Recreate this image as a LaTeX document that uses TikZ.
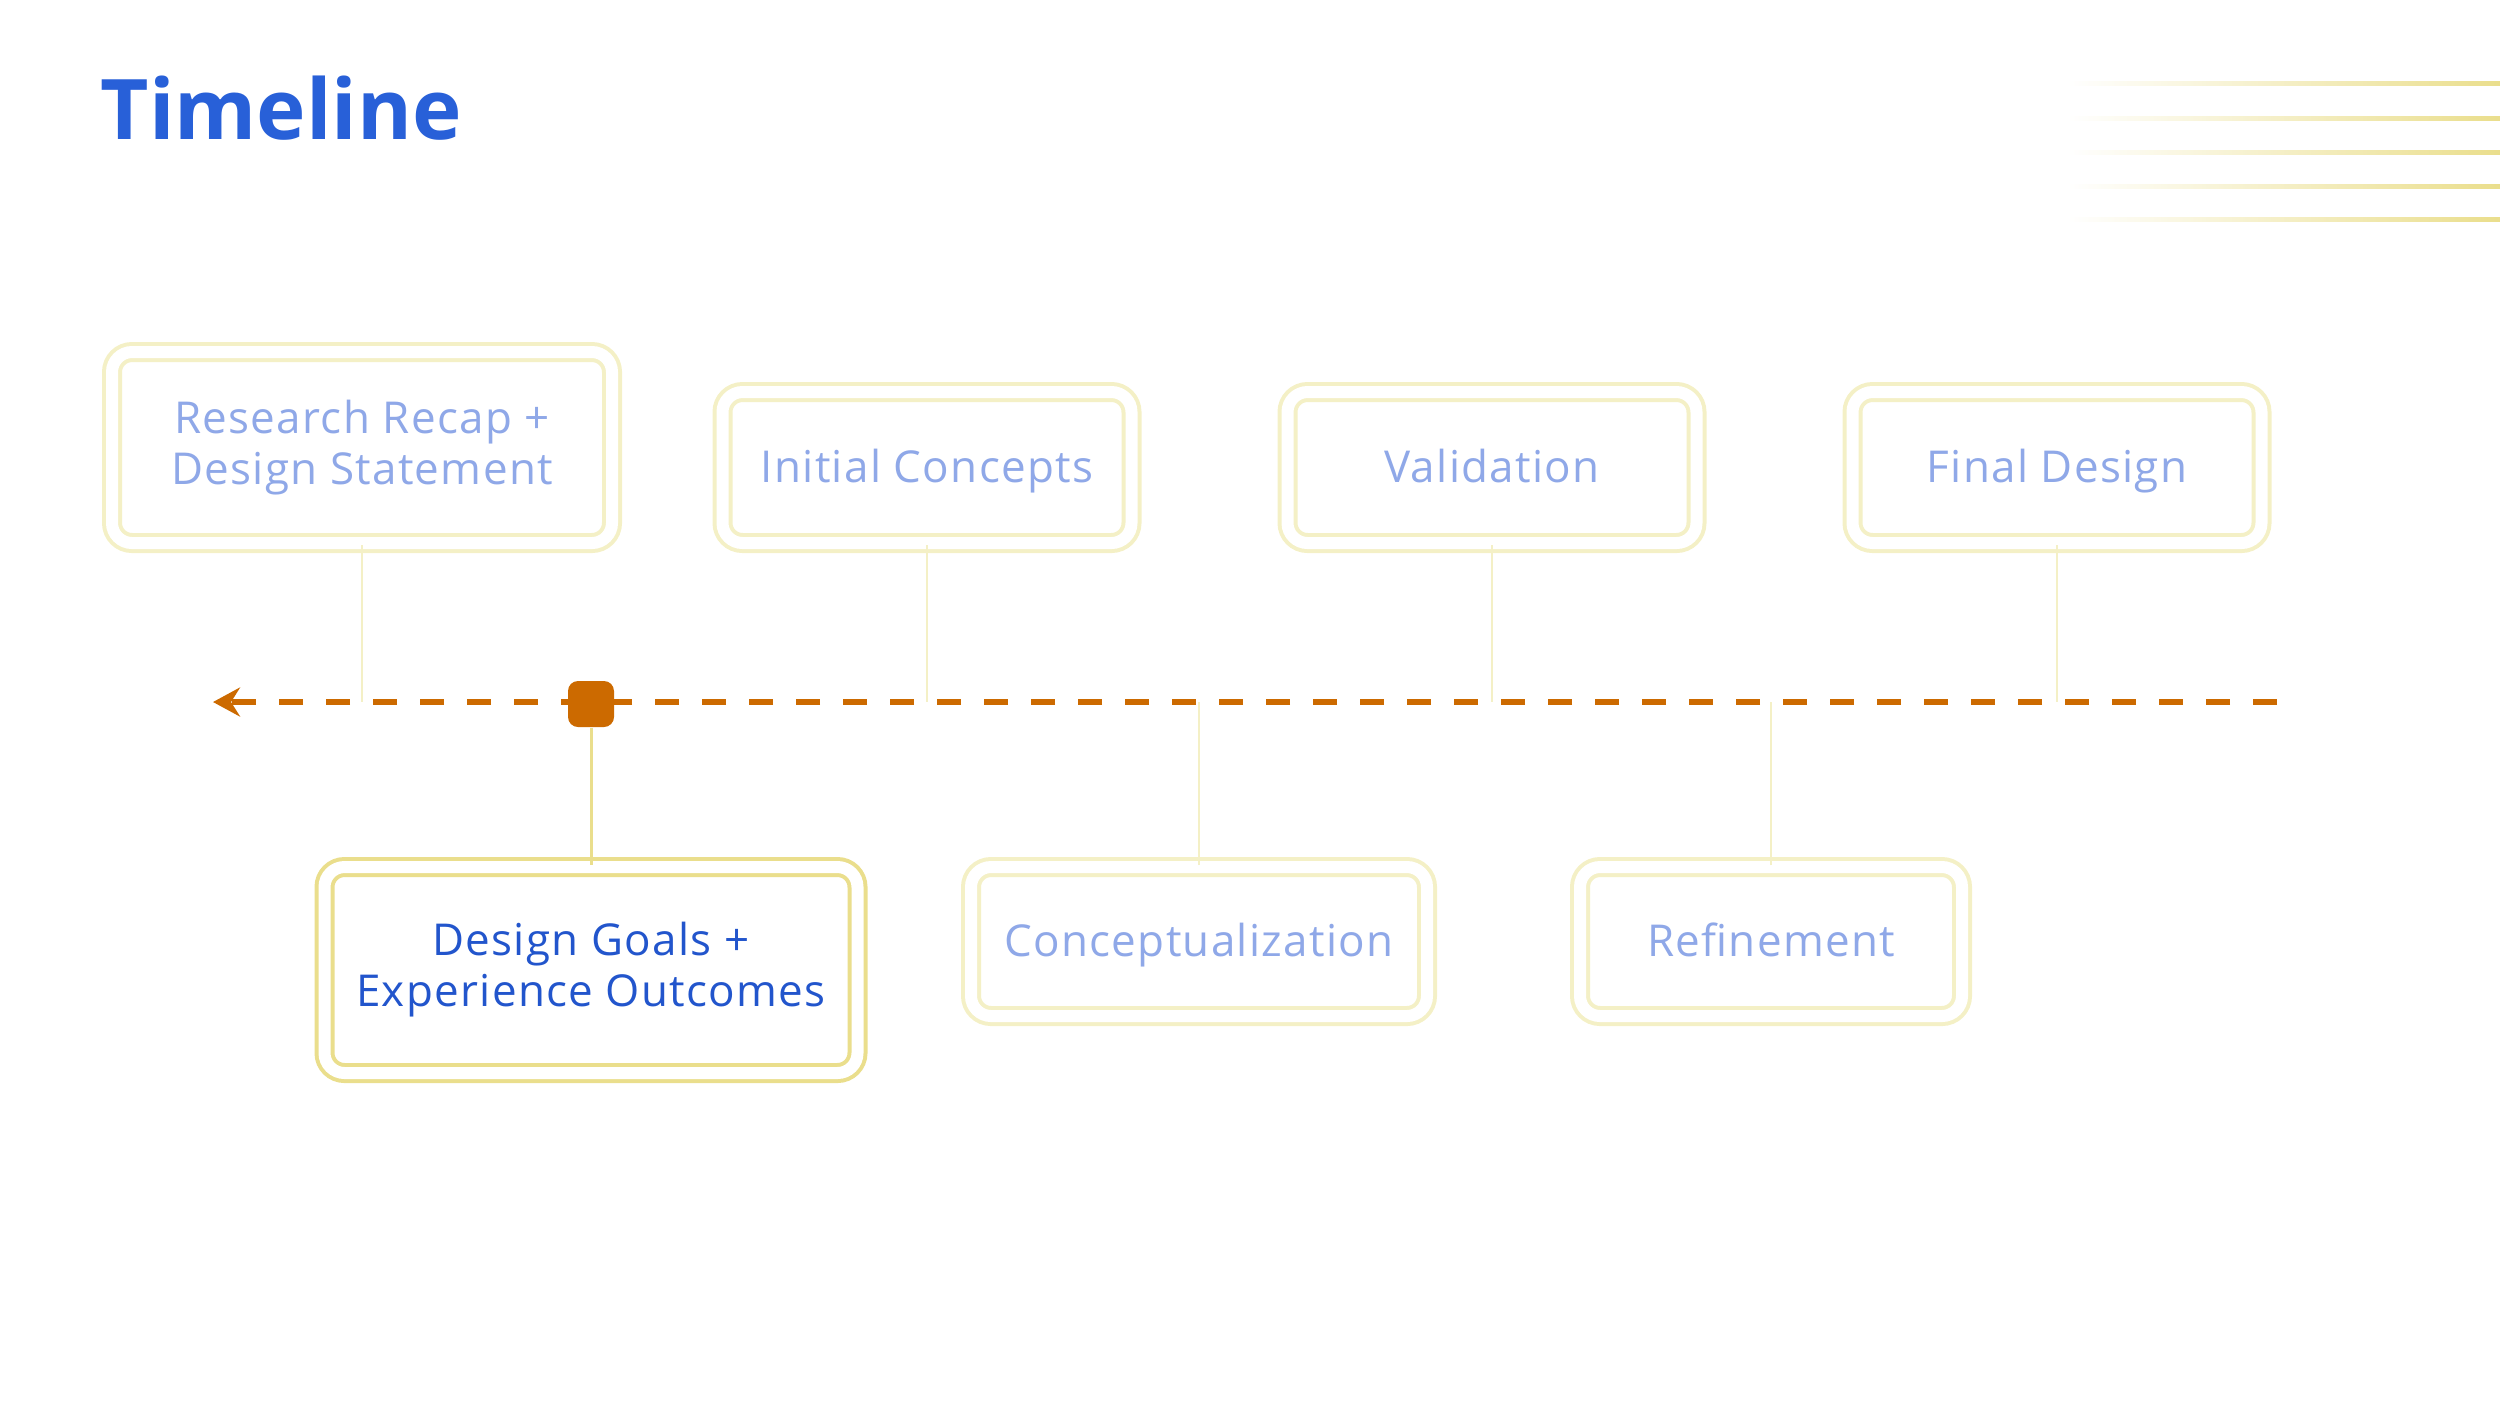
\documentclass[tikz,border=0pt]{standalone}
\usepackage{fontspec}
\setmainfont{Open Sans}
\newfontfamily\stagefont[LetterSpace=3]{Open Sans}
\usepackage{tikz}
\usetikzlibrary{
	positioning,
	arrows.meta
}

\definecolor{titleblue}{RGB}{40,96,216}
\definecolor{paleblue}{RGB}{143,168,232}
\definecolor{deepblue}{RGB}{34,85,204}
\definecolor{paleyellow}{RGB}{244,240,198}
\definecolor{goldline}{RGB}{234,222,140}
\definecolor{rust}{RGB}{204,106,0}

\begin{document}
\begin{tikzpicture}[x=0.1mm,y=-0.1mm,
	stage/.style={draw=paleyellow,line width=0.4mm,double=white,double distance=1.2mm,
		rounded corners=2mm,fill=white,inner sep=0pt,align=center,
		text=paleblue,font=\stagefont\fontsize{12.5}{14.5}\selectfont},
	oneline/.style={text height=4mm,text depth=1.1mm},
	current/.style={stage,draw=goldline,text=deepblue},
	link/.style={paleyellow,line width=0.2mm},
	deco/.style={left color=white,right color=goldline},
	marker/.style={fill=rust,rounded corners=1mm,minimum width=4.6mm,minimum height=4.6mm,inner sep=0pt}
]
	\useasboundingbox (0,0) rectangle (2500,1406);

	\node[anchor=base west,inner sep=0pt,text=titleblue,font=\fontsize{23.8}{28}\selectfont\bfseries]
		(title) at (100,139) {Timeline};

	% lines in the corner
	\foreach \y in {83,118,152,186,219}
		\shade[deco] (2068,\y-2) rectangle (2500,\y+2);

	% stages
	\node[stage,anchor=south,minimum width=50mm,minimum height=19.1mm] (recap) at (362,545)
		{Research Recap +\\Design Statement};
	\node[stage,oneline,anchor=south,minimum width=40.9mm,minimum height=15.1mm] (concepts) at (927,545)
		{Initial Concepts};
	\node[stage,oneline,anchor=south,minimum width=40.9mm,minimum height=15.1mm] (validation) at (1492,545)
		{Validation};
	\node[stage,oneline,anchor=south,minimum width=40.9mm,minimum height=15.1mm] (final) at (2057,545)
		{Final Design};

	\node[current,anchor=north,minimum width=53.3mm,minimum height=20.6mm] (goals) at (591,865)
		{Design Goals +\\Experience Outcomes};
	\node[stage,oneline,anchor=north,minimum width=45.6mm,minimum height=14.9mm] (concept) at (1199,865)
		{Conceptualization};
	\node[stage,oneline,anchor=north,minimum width=38.2mm,minimum height=14.9mm] (refine) at (1771,865)
		{Refinement};

	\coordinate (head) at (213,702);
	\coordinate (tail) at (2277,702);

	% connectors
	\draw[link] (recap.south)      -- (recap.south |- head);
	\draw[link] (concepts.south)   -- (concepts.south |- head);
	\draw[link] (validation.south) -- (validation.south |- head);
	\draw[link] (final.south)      -- (final.south |- head);
	\draw[link] (concept.north)    -- (concept.north |- head);
	\draw[link] (refine.north)     -- (refine.north |- head);

	\draw[rust,line width=0.6mm,dash pattern=on 2.4mm off 2.3mm,
		-{Stealth[length=2.7mm,width=2.9mm,inset=0.9mm]}] (tail) -- (head);

	\node[marker] (now) at (591,704) {};
	\draw[goldline,line width=0.3mm] (now.south) -- (goals.north);
\end{tikzpicture}
\end{document}
